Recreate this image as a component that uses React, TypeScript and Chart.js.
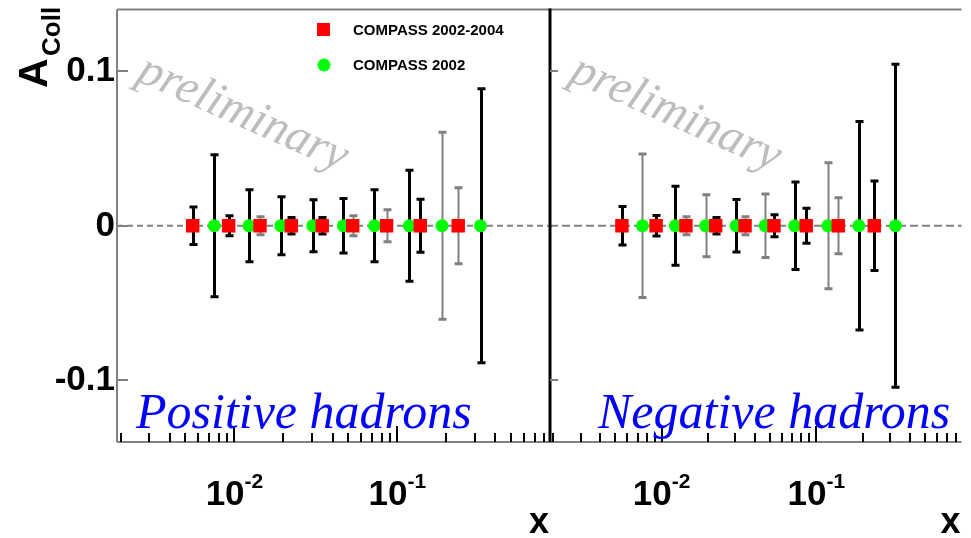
import React, { useEffect, useRef } from "react";
import { Chart, registerables } from "chart.js";

Chart.register(...registerables);

// ---------- data ----------
const xRed = [0.00554, 0.00921, 0.01435, 0.02234, 0.03459, 0.0532, 0.0859, 0.1384, 0.2366];
const xGreen = [0.00752, 0.01228, 0.01924, 0.03027, 0.04661, 0.0724, 0.1185, 0.188, 0.3243];

const posRedA = [0, 0, 0, 0, 0, 0, 0, 0, 0];
const posRedErr = [0.0121, 0.0065, 0.0059, 0.0054, 0.0054, 0.0065, 0.0104, 0.0171, 0.0246];
const posGreenA = [0, 0, 0, 0, 0, 0, 0, 0, 0];
const posGreenErr = [0.046, 0.0233, 0.0188, 0.0168, 0.0177, 0.0233, 0.0359, 0.0606, 0.0887];

const negRedA = [0, 0, 0, 0, 0, 0, 0, 0, 0];
const negRedErr = [0.0125, 0.0067, 0.0058, 0.0053, 0.0058, 0.0072, 0.0114, 0.0181, 0.029];
const negGreenA = [0, 0, 0, 0, 0, 0, 0, 0, 0];
const negGreenErr = [0.0465, 0.0255, 0.02, 0.017, 0.0206, 0.0284, 0.0408, 0.0675, 0.1045];

// error-bar shade per point (k = black, g = grey), as seen in the picture
const posRedShade = ["k", "k", "g", "k", "k", "g", "g", "k", "g"];
const posGreenShade = ["k", "k", "k", "k", "k", "k", "k", "g", "k"];
const negRedShade = ["k", "k", "g", "k", "g", "k", "k", "g", "k"];
const negGreenShade = ["g", "k", "g", "k", "g", "k", "g", "k", "k"];

const yTickValues = [0.1, 0, -0.1];
const yTickLabels = ["0.1", "0", "-0.1"];
const xMajorValues = [0.01, 0.1];
const xMajorExps = ["-2", "-1"];

const legendLabels = ["COMPASS 2002-2004", "COMPASS 2002"];
const panelTitles = ["Positive hadrons", "Negative hadrons"];
const watermark = "preliminary";
const xTitle = "x";
const yTitleMain = "A";
const yTitleSub = "Coll";

const X_MIN = 0.0019;
const X_MAX = 0.866;
const Y_MIN = -0.14;
const Y_MAX = 0.14;

// ---------- drawing helpers ----------
const SANS = '"Liberation Sans", Arial, sans-serif';
const SERIF = '"Liberation Serif", "Times New Roman", serif';
const RED = "#ff0000";
const GREEN = "#00ff00";
const GREY = "#808080";

function drawErrors(ctx: CanvasRenderingContext2D, xs: any, ys: any, xv: number[], yv: number[], ev: number[], shade: string[]) {
  for (let i = 0; i < xv.length; i++) {
    const px = Math.round(xs.getPixelForValue(xv[i])) + 0.5;
    const top = ys.getPixelForValue(yv[i] + ev[i]);
    const bot = ys.getPixelForValue(yv[i] - ev[i]);
    const black = shade[i] === "k";
    ctx.strokeStyle = black ? "#000" : GREY;
    ctx.lineWidth = black ? 3 : 2;
    ctx.beginPath();
    ctx.moveTo(px, top);
    ctx.lineTo(px, bot);
    ctx.stroke();
    ctx.lineWidth = 3;
    ctx.beginPath();
    ctx.moveTo(px - 4, top);
    ctx.lineTo(px + 4, top);
    ctx.moveTo(px - 4, bot);
    ctx.lineTo(px + 4, bot);
    ctx.stroke();
  }
}

function drawPow(ctx: CanvasRenderingContext2D, cx: number, exp: string) {
  const big = `bold 35px ${SANS}`;
  const small = `bold 21px ${SANS}`;
  ctx.font = big;
  const w1 = ctx.measureText("10").width;
  ctx.font = small;
  const w2 = ctx.measureText(exp).width;
  const x0 = cx - (w1 + w2) / 2;
  ctx.fillStyle = "#000";
  ctx.textAlign = "left";
  ctx.textBaseline = "alphabetic";
  ctx.font = big;
  ctx.fillText("10", x0, 505);
  ctx.font = small;
  ctx.fillText(exp, x0 + w1, 488);
}

function makePlugin(isLeft: boolean) {
  const redX = xRed;
  const greenX = xGreen;
  const redA = isLeft ? posRedA : negRedA;
  const redE = isLeft ? posRedErr : negRedErr;
  const greenA = isLeft ? posGreenA : negGreenA;
  const greenE = isLeft ? posGreenErr : negGreenErr;
  const redS = isLeft ? posRedShade : negRedShade;
  const greenS = isLeft ? posGreenShade : negGreenShade;
  return {
    id: isLeft ? "decorLeft" : "decorRight",
    beforeDatasetsDraw(chart: any) {
      const { ctx, chartArea: a, scales } = chart;
      const xs = scales.x;
      const ys = scales.y;
      ctx.save();
      // watermark
      ctx.save();
      ctx.translate(a.left + 18, 80);
      ctx.rotate((24 * Math.PI) / 180);
      ctx.font = `italic 48px ${SERIF}`;
      ctx.fillStyle = "#bdbdbd";
      ctx.textAlign = "left";
      ctx.textBaseline = "alphabetic";
      ctx.fillText(watermark, 0, 0);
      ctx.restore();
      // zero line
      const y0 = ys.getPixelForValue(0);
      ctx.strokeStyle = GREY;
      ctx.lineWidth = 2;
      ctx.setLineDash(isLeft ? [6, 4] : [8, 4]);
      ctx.beginPath();
      ctx.moveTo(a.left, y0);
      ctx.lineTo(a.right, y0);
      ctx.stroke();
      ctx.setLineDash([]);
      // error bars
      drawErrors(ctx, xs, ys, greenX, greenA, greenE, greenS);
      drawErrors(ctx, xs, ys, redX, redA, redE, redS);
      ctx.restore();
    },
    afterDraw(chart: any) {
      const { ctx, chartArea: a, scales } = chart;
      const xs = scales.x;
      const ys = scales.y;
      ctx.save();
      // frame
      ctx.strokeStyle = GREY;
      ctx.lineWidth = 2;
      ctx.beginPath();
      ctx.moveTo(a.left, a.top);
      ctx.lineTo(a.right, a.top);
      ctx.moveTo(a.left, a.bottom);
      ctx.lineTo(a.right, a.bottom);
      if (isLeft) {
        ctx.moveTo(a.left, a.top);
        ctx.lineTo(a.left, a.bottom);
      }
      ctx.stroke();
      if (!isLeft) {
        ctx.strokeStyle = "#000";
        ctx.lineWidth = 3;
        ctx.beginPath();
        ctx.moveTo(a.left, a.top - 1);
        ctx.lineTo(a.left, a.bottom);
        ctx.stroke();
      }
      // y ticks
      ctx.strokeStyle = GREY;
      ctx.lineWidth = 2;
      ctx.beginPath();
      yTickValues.forEach((v) => {
        if (!isLeft && v === 0) return;
        const py = Math.round(ys.getPixelForValue(v));
        ctx.moveTo(a.left, py);
        ctx.lineTo(a.left + (isLeft ? 11 : 8), py);
      });
      ctx.stroke();
      // x ticks
      ctx.strokeStyle = "#000";
      ctx.lineWidth = 2;
      ctx.beginPath();
      for (let e = -3; e <= 0; e++) {
        for (let m = 1; m <= 9; m++) {
          const v = m * Math.pow(10, e);
          if (v < X_MIN || v > X_MAX) continue;
          const px = Math.round(xs.getPixelForValue(v));
          const len = m === 1 ? 16 : 9;
          ctx.moveTo(px, a.bottom);
          ctx.lineTo(px, a.bottom - len);
        }
      }
      ctx.stroke();
      // x labels
      xMajorValues.forEach((v, i) => drawPow(ctx, xs.getPixelForValue(v), xMajorExps[i]));
      // x title
      ctx.font = `bold 36px ${SANS}`;
      ctx.fillStyle = "#000";
      ctx.textAlign = "right";
      ctx.textBaseline = "alphabetic";
      ctx.fillText(xTitle, a.right - 1, 533);
      if (isLeft) {
        // y labels
        ctx.font = `bold 35px ${SANS}`;
        ctx.textAlign = "right";
        yTickValues.forEach((v, i) => {
          ctx.fillText(yTickLabels[i], a.left - 2, ys.getPixelForValue(v) + 10);
        });
        // y title
        ctx.save();
        ctx.translate(47, 88);
        ctx.rotate(-Math.PI / 2);
        ctx.textAlign = "left";
        ctx.font = `bold 41px ${SANS}`;
        ctx.fillText(yTitleMain, 0, 0);
        ctx.restore();
        ctx.save();
        ctx.translate(60, 56);
        ctx.rotate(-Math.PI / 2);
        ctx.textAlign = "left";
        ctx.font = `bold 26px ${SANS}`;
        ctx.fillText(yTitleSub, 0, 0);
        ctx.restore();
        // legend
        ctx.fillStyle = RED;
        ctx.fillRect(317, 23, 13, 13);
        ctx.fillStyle = GREEN;
        ctx.beginPath();
        ctx.arc(324, 65, 6.5, 0, Math.PI * 2);
        ctx.fill();
        ctx.fillStyle = "#000";
        ctx.textAlign = "left";
        ctx.font = `bold 15px ${SANS}`;
        ctx.fillText(legendLabels[0], 353, 35);
        ctx.fillText(legendLabels[1], 353, 70);
      }
      // panel title
      ctx.font = `italic 50px ${SERIF}`;
      ctx.fillStyle = "#0000ff";
      ctx.textAlign = "left";
      ctx.fillText(isLeft ? panelTitles[0] : panelTitles[1], isLeft ? 136 : 598, 428);
      ctx.restore();
    },
  };
}

function makeConfig(isLeft: boolean): any {
  const redA = isLeft ? posRedA : negRedA;
  const greenA = isLeft ? posGreenA : negGreenA;
  return {
    type: "scatter",
    data: {
      datasets: [
        {
          label: legendLabels[0],
          data: xRed.map((x, i) => ({ x, y: redA[i] })),
          pointStyle: "rect",
          pointRadius: 9.5,
          pointBackgroundColor: RED,
          pointBorderColor: RED,
          pointBorderWidth: 0,
          showLine: false,
        },
        {
          label: legendLabels[1],
          data: xGreen.map((x, i) => ({ x, y: greenA[i] })),
          pointStyle: "circle",
          pointRadius: 6.5,
          pointBackgroundColor: GREEN,
          pointBorderColor: GREEN,
          pointBorderWidth: 0,
          showLine: false,
        },
      ],
    },
    options: {
      responsive: false,
      animation: false,
      devicePixelRatio: 1,
      events: [],
      layout: { padding: { top: 9, left: 0, bottom: 0, right: isLeft ? 971 - 550 : 1 } },
      plugins: { legend: { display: false }, tooltip: { enabled: false }, title: { display: false } },
      scales: {
        x: {
          type: "logarithmic",
          min: X_MIN,
          max: X_MAX,
          bounds: "data",
          grid: { display: false },
          border: { display: false },
          ticks: { display: false },
          afterFit: (s: any) => {
            s.height = 96;
          },
        },
        y: {
          type: "linear",
          min: Y_MIN,
          max: Y_MAX,
          bounds: "data",
          grid: { display: false },
          border: { display: false },
          ticks: { display: false },
          afterFit: (s: any) => {
            s.width = isLeft ? 117 : 550;
          },
        },
      },
    },
    plugins: [makePlugin(isLeft)],
  };
}

export default function App() {
  const leftRef = useRef<HTMLCanvasElement>(null);
  const rightRef = useRef<HTMLCanvasElement>(null);
  useEffect(() => {
    const c1 = new Chart(leftRef.current as HTMLCanvasElement, makeConfig(true));
    const c2 = new Chart(rightRef.current as HTMLCanvasElement, makeConfig(false));
    return () => {
      c1.destroy();
      c2.destroy();
    };
  }, []);
  return (
    <div style={{ position: "fixed", left: 0, top: 0, width: 971, height: 538, overflow: "hidden", background: "#fff" }}>
      <canvas ref={leftRef} width={971} height={538} style={{ position: "absolute", left: 0, top: 0, width: 971, height: 538 }} />
      <canvas ref={rightRef} width={971} height={538} style={{ position: "absolute", left: 0, top: 0, width: 971, height: 538 }} />
    </div>
  );
}
